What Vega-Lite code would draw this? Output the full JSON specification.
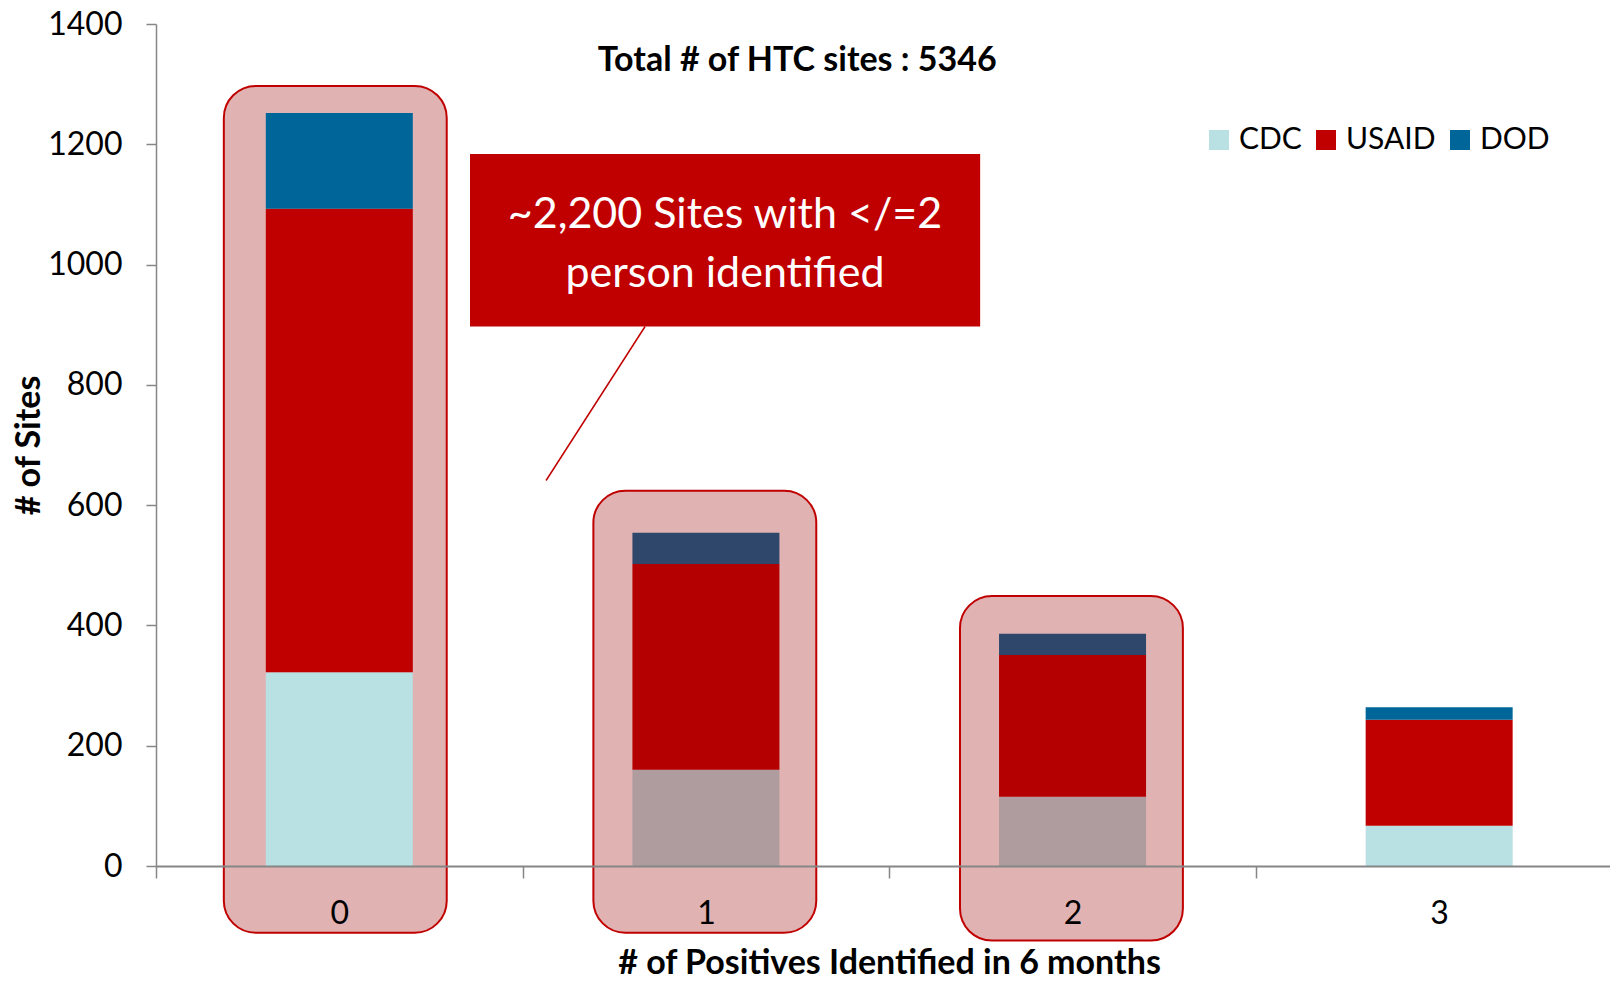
{
  "$schema": "https://vega.github.io/schema/vega-lite/v6.json",
  "width": 1454,
  "height": 842,
  "autosize": {"type": "none"},
  "padding": {"left": 156, "top": 24, "right": 0, "bottom": 118},
  "background": "white",
  "config": {
    "view": {"stroke": null},
    "font": "Lato",
    "legend": {
      "orient": "none",
      "legendX": 1048,
      "legendY": 101,
      "direction": "horizontal",
      "symbolType": "square",
      "symbolSize": 400,
      "symbolStrokeWidth": 0,
      "symbolOpacity": 1,
      "labelFont": "Lato",
      "labelFontSize": 30,
      "labelColor": "#000000",
      "labelOffset": 5,
      "columnPadding": 9,
      "title": null
    }
  },
  "datasets": {
    "bars": [
      {"positives": 0, "agency": "CDC", "rank": 1, "sites": 322},
      {"positives": 0, "agency": "USAID", "rank": 2, "sites": 771},
      {"positives": 0, "agency": "DOD", "rank": 3, "sites": 159},
      {"positives": 1, "agency": "CDC", "rank": 1, "sites": 160},
      {"positives": 1, "agency": "USAID", "rank": 2, "sites": 342},
      {"positives": 1, "agency": "DOD", "rank": 3, "sites": 52},
      {"positives": 2, "agency": "CDC", "rank": 1, "sites": 115},
      {"positives": 2, "agency": "USAID", "rank": 2, "sites": 236},
      {"positives": 2, "agency": "DOD", "rank": 3, "sites": 35},
      {"positives": 3, "agency": "CDC", "rank": 1, "sites": 67},
      {"positives": 3, "agency": "USAID", "rank": 2, "sites": 176},
      {"positives": 3, "agency": "DOD", "rank": 3, "sites": 21}
    ],
    "highlights": [
      {"positives": 0, "left": -0.315, "right": 0.293, "top": 1297, "bottom": -111},
      {"positives": 1, "left": 0.693, "right": 1.301, "top": 624, "bottom": -111},
      {"positives": 2, "left": 1.693, "right": 2.301, "top": 449, "bottom": -124}
    ],
    "one": [{}]
  },
  "layer": [
    {
      "data": {"name": "highlights"},
      "transform": [{"filter": "datum.positives == 0"}],
      "mark": {"type": "rect", "cornerRadius": 32, "fill": "#980000", "fillOpacity": 0.3, "stroke": "#c00000", "strokeWidth": 2},
      "encoding": {
        "x": {"field": "left", "type": "quantitative", "scale": {"domain": [-0.5, 3.466], "nice": false, "zero": false, "padding": 0},
          "axis": {
            "values": [-0.5, 0.5, 1.5, 2.5],
            "labelExpr": "format(datum.value + 0.5, 'd')",
            "labelOffset": 183.3,
            "labelAlign": "center",
            "labelBound": false,
            "labelFlush": false,
            "labelOverlap": false,
            "labelFont": "Lato",
            "labelFontSize": 32,
            "labelColor": "#000000",
            "labelPadding": 20,
            "tickSize": 12,
            "tickWidth": 1.5,
            "tickColor": "#868686",
            "domainColor": "#868686",
            "domainWidth": 2,
            "grid": false,
            "zindex": 1,
            "title": "# of Positives Identified in 6 months",
            "titleFont": "Lato",
            "titleFontSize": 34,
            "titleFontWeight": "bold",
            "titleColor": "#000000",
            "titlePadding": 17,
            "titleX": 733,
            "titleAlign": "center"
          }
        },
        "x2": {"field": "right"},
        "y": {"field": "top", "type": "quantitative", "scale": {"domain": [0, 1400], "nice": false},
          "axis": {
            "values": [0, 200, 400, 600, 800, 1000, 1200, 1400],
            "format": "d",
            "labelFont": "Lato",
            "labelFontSize": 32,
            "labelColor": "#000000",
            "labelPadding": 24,
            "tickSize": 10,
            "tickWidth": 1.5,
            "tickColor": "#868686",
            "domainColor": "#868686",
            "domainWidth": 1.5,
            "grid": false,
            "title": "# of Sites",
            "titleFont": "Lato",
            "titleFontSize": 34,
            "titleFontWeight": "bold",
            "titleColor": "#000000",
            "titlePadding": 1
          }
        },
        "y2": {"field": "bottom"}
      }
    },
    {
      "data": {"name": "bars"},
      "mark": {"type": "bar", "width": 147, "orient": "vertical"},
      "encoding": {
        "x": {"field": "positives", "type": "quantitative"},
        "y": {"field": "sites", "type": "quantitative", "stack": "zero"},
        "order": {"field": "rank", "type": "quantitative"},
        "color": {"field": "agency", "type": "nominal",
          "scale": {"domain": ["CDC", "USAID", "DOD"], "range": ["#b9e0e3", "#c00000", "#006699"]}
        }
      }
    },
    {
      "data": {"name": "highlights"},
      "transform": [{"filter": "datum.positives > 0"}],
      "mark": {"type": "rect", "cornerRadius": 32, "fill": "#980000", "fillOpacity": 0.3, "stroke": "#c00000", "strokeWidth": 2},
      "encoding": {
        "x": {"field": "left", "type": "quantitative"},
        "x2": {"field": "right"},
        "y": {"field": "top", "type": "quantitative"},
        "y2": {"field": "bottom"}
      }
    },
    {
      "data": {"name": "one"},
      "mark": {"type": "rule", "color": "#c00000", "strokeWidth": 1.5},
      "encoding": {
        "x": {"datum": 0.834, "type": "quantitative"},
        "x2": {"datum": 0.564},
        "y": {"datum": 897, "type": "quantitative"},
        "y2": {"datum": 641}
      }
    },
    {
      "data": {"name": "one"},
      "mark": {"type": "rect", "fill": "#c00000"},
      "encoding": {
        "x": {"datum": 0.3565, "type": "quantitative"},
        "x2": {"datum": 1.748},
        "y": {"datum": 1184, "type": "quantitative"},
        "y2": {"datum": 897}
      }
    },
    {
      "data": {"name": "one"},
      "mark": {"type": "text", "text": ["~2,200 Sites with </=2", "person identified"], "font": "Lato", "fontSize": 43, "lineHeight": 58.5, "color": "white", "align": "center", "baseline": "middle"},
      "encoding": {
        "x": {"datum": 1.052, "type": "quantitative"},
        "y": {"datum": 1082, "type": "quantitative"}
      }
    },
    {
      "data": {"name": "one"},
      "mark": {"type": "text", "text": "Total # of HTC sites : 5346", "font": "Lato", "fontSize": 34, "fontWeight": "bold", "color": "black", "align": "center", "baseline": "middle"},
      "encoding": {
        "x": {"datum": 1.249, "type": "quantitative"},
        "y": {"datum": 1338, "type": "quantitative"}
      }
    }
  ]
}
